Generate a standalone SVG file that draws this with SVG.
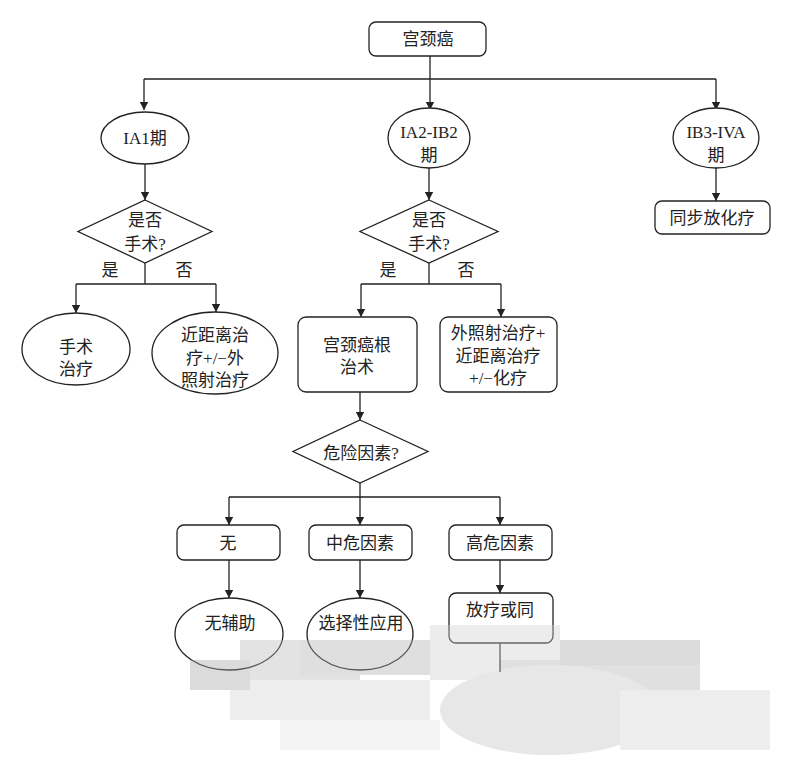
<svg xmlns="http://www.w3.org/2000/svg" width="785" height="768" viewBox="0 0 785 768">
<defs>
<marker id="ah" markerWidth="8" markerHeight="10" refX="8" refY="5" orient="auto" markerUnits="userSpaceOnUse">
<path d="M0,0.8 L8,5 L0,9.2 Z" fill="#222"/>
</marker>
<style>
.s{fill:#fff;stroke:#222;stroke-width:1.3}
.t{font-family:"Liberation Serif","Noto Sans CJK SC",serif;font-size:17px;fill:#222;text-anchor:middle;dominant-baseline:central}
.c{fill:none;stroke:#222;stroke-width:1.3}
.a{fill:none;stroke:#222;stroke-width:1.3;marker-end:url(#ah)}
</style>
</defs>
<rect width="785" height="768" fill="#fff"/>
<g id="connectors">
<path class="c" d="M430,56 V79 M144,79 H716"/>
<path class="a" d="M144,79 V110"/>
<path class="a" d="M430,79 V110"/>
<path class="a" d="M716,79 V110"/>
<path class="a" d="M145,164 V200"/>
<path class="a" d="M429,168 V200"/>
<path class="a" d="M716,168 V201"/>
<path class="c" d="M145,263 V284 M76,284 H216"/>
<path class="a" d="M76,284 V313"/>
<path class="a" d="M216,284 V312"/>
<path class="c" d="M429,263 V284 M361,284 H501"/>
<path class="a" d="M361,284 V317"/>
<path class="a" d="M501,284 V317"/>
<path class="a" d="M360,392 V420"/>
<path class="c" d="M360,483 V497 M229,497 H500"/>
<path class="a" d="M229,497 V525"/>
<path class="a" d="M360,497 V525"/>
<path class="a" d="M500,497 V525"/>
<path class="a" d="M229,560 V598"/>
<path class="a" d="M360,560 V598"/>
<path class="a" d="M500,560 V593"/>
<path class="c" d="M500,643 V672"/>
</g>
<g id="n-root"><rect class="s" x="369" y="22" width="117" height="34" rx="7"/><text class="t" x="428" y="39">宫颈癌</text></g>
<g id="n-ia1"><ellipse class="s" cx="145" cy="138" rx="44" ry="26"/><text class="t" x="145" y="138">IA1期</text></g>
<g id="n-ia2"><ellipse class="s" cx="429" cy="138" rx="41" ry="30"/><text class="t" x="429" y="132">IA2-IB2</text><text class="t" x="429" y="155">期</text></g>
<g id="n-ib3"><ellipse class="s" cx="716" cy="138" rx="43" ry="30"/><text class="t" x="716" y="132">IB3-IVA</text><text class="t" x="716" y="155">期</text></g>
<g id="n-chemo"><rect class="s" x="655" y="201" width="115" height="33" rx="7"/><text class="t" x="712" y="218">同步放化疗</text></g>
<g id="n-q1"><polygon class="s" points="145,200 212,231.5 145,263 78,231.5"/><text class="t" x="145" y="220">是否</text><text class="t" x="145" y="244">手术?</text></g>
<g id="n-q2"><polygon class="s" points="429,200 498,231.5 429,263 360,231.5"/><text class="t" x="429" y="220">是否</text><text class="t" x="429" y="244">手术?</text></g>
<text class="t" x="110" y="270">是</text><text class="t" x="184" y="270">否</text>
<text class="t" x="388" y="270">是</text><text class="t" x="466" y="270">否</text>
<g id="n-surg"><ellipse class="s" cx="76" cy="349" rx="54" ry="36"/><text class="t" x="76" y="347">手术</text><text class="t" x="76" y="369">治疗</text></g>
<g id="n-brachy"><ellipse class="s" cx="215" cy="353" rx="63" ry="41"/><text class="t" x="215" y="335">近距离治</text><text class="t" x="215" y="358">疗+/−外</text><text class="t" x="215" y="380">照射治疗</text></g>
<g id="n-rad"><rect class="s" x="298" y="317" width="119" height="75" rx="8"/><text class="t" x="357" y="345">宫颈癌根</text><text class="t" x="357" y="367">治术</text></g>
<g id="n-ext"><rect class="s" x="440" y="317" width="117" height="75" rx="8"/><text class="t" x="498" y="333">外照射治疗+</text><text class="t" x="498" y="356">近距离治疗</text><text class="t" x="498" y="378">+/−化疗</text></g>
<g id="n-risk"><polygon class="s" points="360,420 428,451.5 360,483 293,451.5"/><text class="t" x="361" y="453">危险因素?</text></g>
<g id="n-none"><rect class="s" x="177" y="525" width="103" height="35" rx="7"/><text class="t" x="228" y="543">无</text></g>
<g id="n-mid"><rect class="s" x="309" y="525" width="103" height="35" rx="7"/><text class="t" x="360" y="543">中危因素</text></g>
<g id="n-high"><rect class="s" x="449" y="525" width="103" height="35" rx="7"/><text class="t" x="500" y="543">高危因素</text></g>
<g id="n-noadj"><ellipse class="s" cx="229" cy="634" rx="54" ry="36"/><text class="t" x="230" y="623">无辅助</text></g>
<g id="n-sel"><ellipse class="s" cx="360" cy="634" rx="53" ry="36"/><text class="t" x="361" y="623">选择性应用</text></g>
<g id="n-crt"><rect class="s" x="449" y="593" width="104" height="50" rx="7"/><text class="t" x="500" y="610">放疗或同</text></g>
<g id="noise" opacity="0.4">
<rect x="240" y="640" width="120" height="40" fill="#bbb"/>
<rect x="230" y="680" width="200" height="40" fill="#d4d4d4"/>
<rect x="280" y="720" width="160" height="30" fill="#e2e2e2"/>
<rect x="300" y="640" width="140" height="35" fill="#b0b0b0"/>
<rect x="430" y="625" width="130" height="55" fill="#d0d0d0"/>
<rect x="500" y="660" width="200" height="70" fill="#b4b4b4"/>
<rect x="560" y="640" width="140" height="25" fill="#a8a8a8"/>
<ellipse cx="550" cy="710" rx="110" ry="45" fill="#c4c4c4"/>
<rect x="620" y="690" width="150" height="60" fill="#d4d4d4"/>
<rect x="190" y="660" width="60" height="30" fill="#a8a8a8"/>
</g>
</svg>
